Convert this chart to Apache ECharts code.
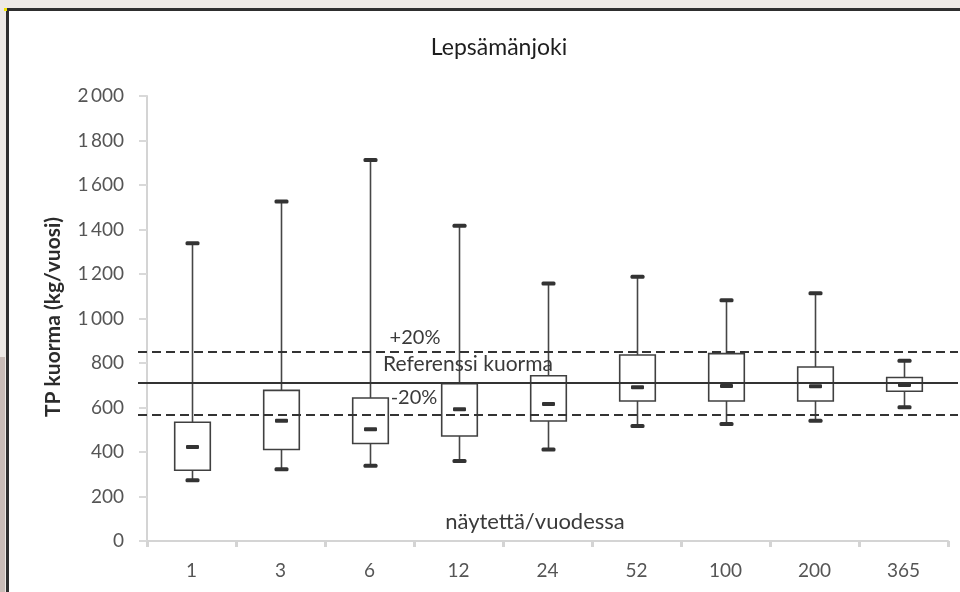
<!DOCTYPE html>
<html>
<head>
<meta charset="utf-8">
<script src="https://cdn.jsdelivr.net/npm/echarts@6/dist/echarts.min.js"></script>
<style>
html,body{margin:0;padding:0;background:#ede9e5;}
#chart{width:960px;height:592px;}
</style>
</head>
<body>
<div id="chart"></div>
<script>
// Data
const categories = ['1', '3', '6', '12', '24', '52', '100', '200', '365'];
const minValues    = [273, 323, 338, 359, 411, 517, 526, 541, 601];
const q1Values     = [318, 411, 438, 472, 539, 629, 629, 629, 673];
const medianValues = [423, 541, 502, 592, 616, 691, 697, 695, 701];
const q3Values     = [534, 677, 643, 707, 743, 836, 842, 782, 735];
const maxValues    = [1338, 1526, 1712, 1417, 1157, 1188, 1082, 1114, 810];
const referenceLoad = 708;
const upperBand = 850;
const lowerBand = 566;
const yTickValues = [0, 200, 400, 600, 800, 1000, 1200, 1400, 1600, 1800, 2000];

const FONT = 'Lato, "Open Sans", sans-serif';
const DARK = '#333333';

const boxData = categories.map((c, i) => [i, minValues[i], q1Values[i], medianValues[i], q3Values[i], maxValues[i]]);
const lineData = [
  [upperBand, 'dash'],
  [referenceLoad, 'solid'],
  [lowerBand, 'dash']
];

function renderBox(params, api) {
  const x = api.value(0);
  const lo = api.coord([x, api.value(1)]);
  const q1 = api.coord([x, api.value(2)]);
  const med = api.coord([x, api.value(3)]);
  const q3 = api.coord([x, api.value(4)]);
  const hi = api.coord([x, api.value(5)]);
  const cx = Math.round(lo[0]) + 0.5;
  const bw = api.size([1, 0])[0] * 0.4;
  const capW = 14, capH = 4, medW = 13, medH = 4;
  return {
    type: 'group',
    children: [
      { type: 'line', shape: { x1: cx, y1: hi[1], x2: cx, y2: q3[1] }, style: { stroke: '#464646', lineWidth: 1.6 } },
      { type: 'line', shape: { x1: cx, y1: q1[1], x2: cx, y2: lo[1] }, style: { stroke: '#464646', lineWidth: 1.6 } },
      { type: 'rect', shape: { x: cx - bw / 2, y: q3[1], width: bw, height: q1[1] - q3[1] }, style: { fill: '#ffffff', stroke: '#404040', lineWidth: 1.6 } },
      { type: 'rect', shape: { x: cx - capW / 2, y: hi[1] - capH / 2, width: capW, height: capH, r: 1.5 }, style: { fill: DARK } },
      { type: 'rect', shape: { x: cx - capW / 2, y: lo[1] - capH / 2, width: capW, height: capH, r: 1.5 }, style: { fill: DARK } },
      { type: 'rect', shape: { x: cx - medW / 2, y: med[1] - medH / 2, width: medW, height: medH, r: 1 }, style: { fill: DARK } }
    ]
  };
}

function renderRefLine(params, api) {
  const p = api.coord([0, api.value(0)]);
  const dashed = lineData[params.dataIndex][1] === 'dash';
  const cs = params.coordSys;
  return {
    type: 'line',
    shape: { x1: cs.x - 9, y1: Math.round(p[1]), x2: 958, y2: Math.round(p[1]) },
    style: { stroke: DARK, lineWidth: 2, lineDash: dashed ? [9, 5] : null }
  };
}

const chart = echarts.init(document.getElementById('chart'), null, { renderer: 'canvas' });
chart.setOption({
  animation: false,
  backgroundColor: 'transparent',
  title: {
    text: 'Lepsämänjoki',
    left: 494, top: 31, textAlign: 'center',
    textStyle: { fontFamily: FONT, fontSize: 23, fontWeight: 'normal', color: '#1e1e1e' }
  },
  graphic: [
    { type: 'rect', z: -10, shape: { x: 0, y: 357, width: 5, height: 235 }, style: { fill: '#c9bcb7' } },
    { type: 'rect', z: -10, shape: { x: 9, y: 11, width: 951, height: 581 }, style: { fill: '#ffffff' } },
    { type: 'rect', z: -9, shape: { x: 6, y: 8, width: 954, height: 3 }, style: { fill: '#2e2e2e' } },
    { type: 'rect', z: -9, shape: { x: 6, y: 8, width: 3, height: 584 }, style: { fill: '#2e2e2e' } },
    { type: 'rect', z: -8, shape: { x: 4, y: 8, width: 3, height: 3 }, style: { fill: '#f5e400' } },
    { type: 'text', rotation: Math.PI / 2, z: 10,
      x: 53, y: 317, style: { text: 'TP kuorma (kg/vuosi)', fontFamily: FONT, fontSize: 21, fontWeight: 'bold', fill: '#2b2b2b', textAlign: 'center', textVerticalAlign: 'middle' } },
    { type: 'text', z: 10, x: 415, y: 338, style: { text: '+20%', fontFamily: FONT, fontSize: 20, fill: '#3a3a3a', textAlign: 'center', textVerticalAlign: 'middle' } },
    { type: 'text', z: 10, x: 468, y: 364, style: { text: 'Referenssi kuorma', fontFamily: FONT, fontSize: 21, fill: '#3a3a3a', textAlign: 'center', textVerticalAlign: 'middle' } },
    { type: 'text', z: 10, x: 414, y: 398, style: { text: '-20%', fontFamily: FONT, fontSize: 20, fill: '#3a3a3a', textAlign: 'center', textVerticalAlign: 'middle' } },
    { type: 'text', z: 10, x: 535, y: 522, style: { text: 'näytettä/vuodessa', fontFamily: FONT, fontSize: 22, fill: '#3a3a3a', textAlign: 'center', textVerticalAlign: 'middle' } }
  ],
  grid: { left: 147, right: 12, top: 96, bottom: 51, containLabel: false },
  xAxis: {
    type: 'category',
    data: categories,
    boundaryGap: true,
    axisLine: { show: true, lineStyle: { color: '#d4d4d4', width: 2 } },
    axisTick: { show: true, length: 6, lineStyle: { color: '#d4d4d4', width: 3 } },
    axisLabel: { margin: 20, fontFamily: FONT, fontSize: 19, color: '#555555' },
    splitLine: { show: false }
  },
  yAxis: {
    type: 'value',
    min: 0, max: 2000, interval: 200,
    axisLine: { show: true, lineStyle: { color: '#d4d4d4', width: 2 } },
    axisTick: { show: true, length: 8, lineStyle: { color: '#d9d9d9', width: 2 } },
    axisLabel: {
      margin: 23, fontFamily: FONT, fontSize: 19, color: '#555555',
      formatter: function (v) {
        if (yTickValues.indexOf(v) < 0) return '';
        return v >= 1000 ? String(v).replace(/(\d)(\d{3})$/, '$1\u2009$2') : String(v);
      }
    },
    splitLine: { show: false }
  },
  series: [
    { type: 'custom', renderItem: renderBox, data: boxData, z: 2, clip: false,
      encode: { x: 0, y: [1, 2, 3, 4, 5] } },
    { type: 'custom', renderItem: renderRefLine, data: lineData.map(d => [d[0]]), z: 3, clip: false,
      encode: { y: 0 } }
  ]
});
</script>
</body>
</html>
